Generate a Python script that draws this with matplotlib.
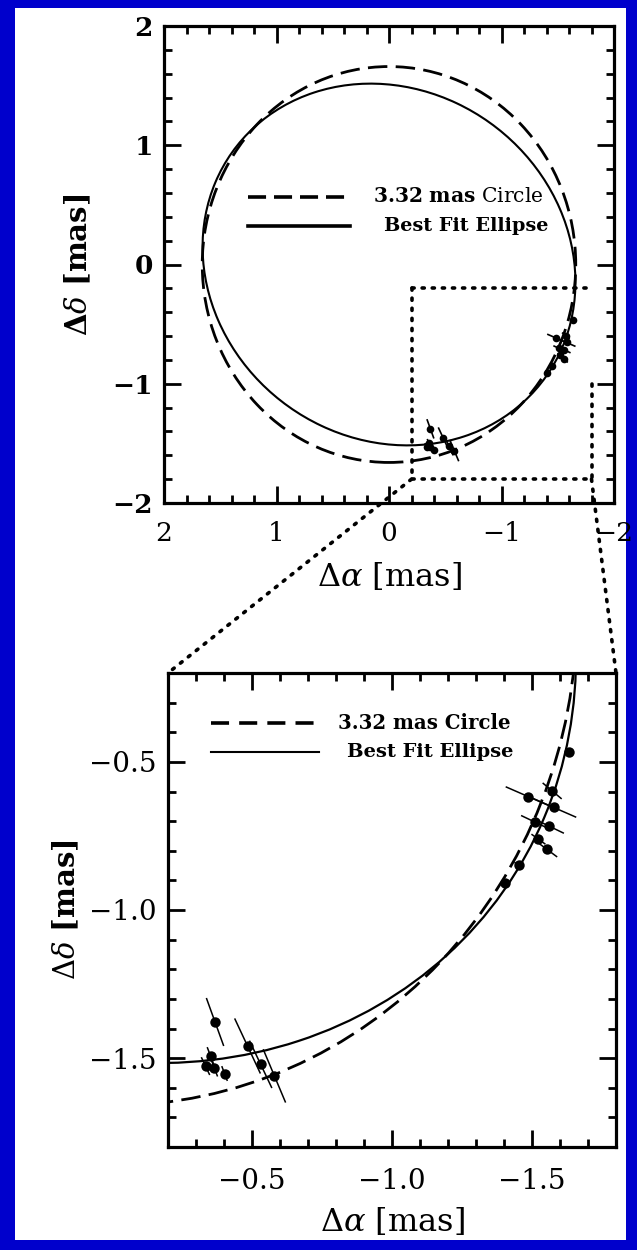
import matplotlib
matplotlib.use('Agg')
import matplotlib.pyplot as plt
from matplotlib.patches import Circle, Ellipse, Rectangle, ConnectionPatch
from matplotlib.ticker import MultipleLocator

plt.rcParams['mathtext.fontset'] = 'dejavuserif'
plt.rcParams['font.family'] = ['DejaVu Serif']

# ---------------- data ----------------
circle_diameter = 3.32          # mas
circle_center = (0.0, 0.0)
ellipse_center = (0.0, 0.0)
ellipse_major = 3.38            # full major axis, mas
ellipse_minor = 2.96            # full minor axis, mas
ellipse_angle = 24.0            # deg

# measured positions (mas)
pos_alpha = [-1.632, -1.572, -1.486, -1.578, -1.510, -1.559, -1.523, -1.553, -1.452, -1.405,
             -0.368, -0.352, -0.334, -0.365, -0.402, -0.484, -0.531, -0.580]
pos_delta = [-0.468, -0.598, -0.617, -0.654, -0.703, -0.716, -0.761, -0.795, -0.849, -0.910,
             -1.378, -1.493, -1.527, -1.532, -1.552, -1.459, -1.521, -1.560]
# half-extent of the (tilted) error bars along alpha and delta
err_alpha = [0.010, 0.034, 0.080, 0.080, 0.049, 0.055, 0.025, 0.037, 0.015, 0.012,
             0.031, 0.012, 0.015, 0.012, 0.010, 0.046, 0.040, 0.040]
err_delta = [0.015, 0.027, 0.033, 0.033, 0.022, 0.025, 0.017, 0.026, 0.010, 0.008,
             0.081, 0.030, 0.030, 0.030, 0.025, 0.093, 0.080, 0.090]

# axis ranges and ticks
full_xlim = (2.0, -2.0)
full_ylim = (-2.0, 2.0)
full_xticks = [2, 1, 0, -1, -2]
full_xticklabels = ['2', '1', '0', '\u22121', '\u22122']
full_yticks = [-2, -1, 0, 1, 2]
full_yticklabels = ['\u22122', '\u22121', '0', '1', '2']

zoom_xlim = (-0.2, -1.8)
zoom_ylim = (-1.8, -0.2)
zoom_ticks = [-0.5, -1.0, -1.5]
zoom_ticklabels = ['\u22120.5', '\u22121.0', '\u22121.5']
box_right_top = -1.0            # upper end of the visible right side of the zoom box

xlabel_text = r'$\Delta\alpha$ [mas]'
ylabel_full = r'$\mathbf{\Delta}\delta$ [mas]'
ylabel_zoom = r'$\Delta\delta$ [mas]'
legend_top = [r'$\mathbf{3.32\ mas}$ Circle', 'Best Fit Ellipse']
legend_bot = ['3.32 mas Circle', 'Best Fit Ellipse']

# ---------------- figure ----------------
W, H = 637, 1250
fig = plt.figure(figsize=(W / 100, H / 100), dpi=100)
fig.patch.set_facecolor('#0000CC')
fig.add_artist(Rectangle((15 / W, 1 - 1240 / H), (626 - 15) / W, (1240 - 8) / H,
                         transform=fig.transFigure, facecolor='white',
                         edgecolor='none', zorder=-5))

ax1 = fig.add_axes([164 / W, 1 - 503 / H, 450 / W, 477 / H])
ax2 = fig.add_axes([168 / W, 1 - 1147 / H, 448 / W, 474 / H])

DASH = (0, (7, 3))
DOT = (0, (0.6, 2.2))


def style(ax):
    for s in ax.spines.values():
        s.set_linewidth(2.3)
    ax.tick_params(which='both', direction='in', top=True, right=True,
                   width=2.0, color='black')
    ax.tick_params(which='major', length=12)
    ax.tick_params(which='minor', length=6)


def draw_model(ax, lw_c, lw_e):
    ax.add_patch(Circle(circle_center, circle_diameter / 2, fill=False,
                        ls=DASH, lw=lw_c, ec='black'))
    ax.add_patch(Ellipse(ellipse_center, ellipse_major, ellipse_minor,
                         angle=ellipse_angle, fill=False, lw=lw_e, ec='black'))


def draw_data(ax, ms, lw):
    for a, d, ea, ed in zip(pos_alpha, pos_delta, err_alpha, err_delta):
        ax.plot([a + ea, a - ea], [d + ed, d - ed], color='black', lw=lw,
                solid_capstyle='butt')
    ax.plot(pos_alpha, pos_delta, 'o', color='black', ms=ms, mew=0)


# ---------- top panel ----------
style(ax1)
ax1.set_xlim(*full_xlim)
ax1.set_ylim(*full_ylim)
draw_model(ax1, 2.0, 1.5)
draw_data(ax1, 5.5, 1.2)

ax1.set_xticks(full_xticks, full_xticklabels, fontsize=19)
ax1.set_yticks(full_yticks, full_yticklabels, fontsize=19, fontweight='bold')
ax1.xaxis.set_minor_locator(MultipleLocator(0.2))
ax1.yaxis.set_minor_locator(MultipleLocator(0.2))
ax1.tick_params(axis='x', pad=13)
ax1.tick_params(axis='y', pad=8)
ax1.set_xlabel(xlabel_text, fontsize=23, labelpad=11)
ax1.set_ylabel(ylabel_full, fontsize=21, fontweight='bold', labelpad=14)

# zoom box (dotted)
ax1.plot([zoom_xlim[0], zoom_xlim[1]], [zoom_ylim[1], zoom_ylim[1]], ls=DOT, lw=2.6,
         color='black', dash_capstyle='round')
ax1.plot([zoom_xlim[0], zoom_xlim[0]], [zoom_ylim[1], zoom_ylim[0]], ls=DOT, lw=2.6,
         color='black', dash_capstyle='round')
ax1.plot([zoom_xlim[0], zoom_xlim[1]], [zoom_ylim[0], zoom_ylim[0]], ls=DOT, lw=2.6,
         color='black', dash_capstyle='round')
ax1.plot([zoom_xlim[1], zoom_xlim[1]], [box_right_top, zoom_ylim[0]], ls=DOT, lw=2.6,
         color='black', dash_capstyle='round')

# legend top
ax1.plot([0.187, 0.413], [0.642, 0.642], transform=ax1.transAxes, color='black',
         lw=2.6, ls=(0, (5, 2.2)))
ax1.plot([0.187, 0.413], [0.581, 0.581], transform=ax1.transAxes, color='black', lw=2.6)
ax1.text(0.464, 0.642, legend_top[0], transform=ax1.transAxes, fontsize=14.6,
         va='center', ha='left')
ax1.text(0.489, 0.581, legend_top[1], transform=ax1.transAxes, fontsize=13.9,
         fontweight='bold', va='center', ha='left')

# ---------- bottom panel ----------
style(ax2)
ax2.set_xlim(*zoom_xlim)
ax2.set_ylim(*zoom_ylim)
draw_model(ax2, 2.0, 1.6)
draw_data(ax2, 7.5, 1.1)

ax2.set_xticks(zoom_ticks, zoom_ticklabels, fontsize=20)
ax2.set_yticks(zoom_ticks, zoom_ticklabels, fontsize=20)
ax2.xaxis.set_minor_locator(MultipleLocator(0.1))
ax2.yaxis.set_minor_locator(MultipleLocator(0.1))
ax2.tick_params(axis='x', pad=15)
ax2.tick_params(axis='y', pad=8)
ax2.set_xlabel(xlabel_text, fontsize=23, labelpad=8)
ax2.set_ylabel(ylabel_zoom, fontsize=21, fontweight='bold', labelpad=6)

ax2.plot([0.097, 0.338], [0.894, 0.894], transform=ax2.transAxes, color='black',
         lw=2.6, ls=(0, (5, 2.8)))
ax2.plot([0.097, 0.338], [0.834, 0.834], transform=ax2.transAxes, color='black', lw=1.5)
ax2.text(0.379, 0.894, legend_bot[0], transform=ax2.transAxes, fontsize=14.2,
         fontweight='bold', va='center', ha='left')
ax2.text(0.400, 0.834, legend_bot[1], transform=ax2.transAxes, fontsize=14.0,
         fontweight='bold', va='center', ha='left')

# connectors from zoom box to the lower panel
for xa in zoom_xlim:
    cp = ConnectionPatch(xyA=(xa, zoom_ylim[0]), coordsA=ax1.transData,
                         xyB=(xa, zoom_ylim[1]), coordsB=ax2.transData,
                         ls=DOT, lw=2.6, color='black', capstyle='round')
    fig.add_artist(cp)

fig.savefig('out.png', dpi=100, facecolor=fig.get_facecolor())
